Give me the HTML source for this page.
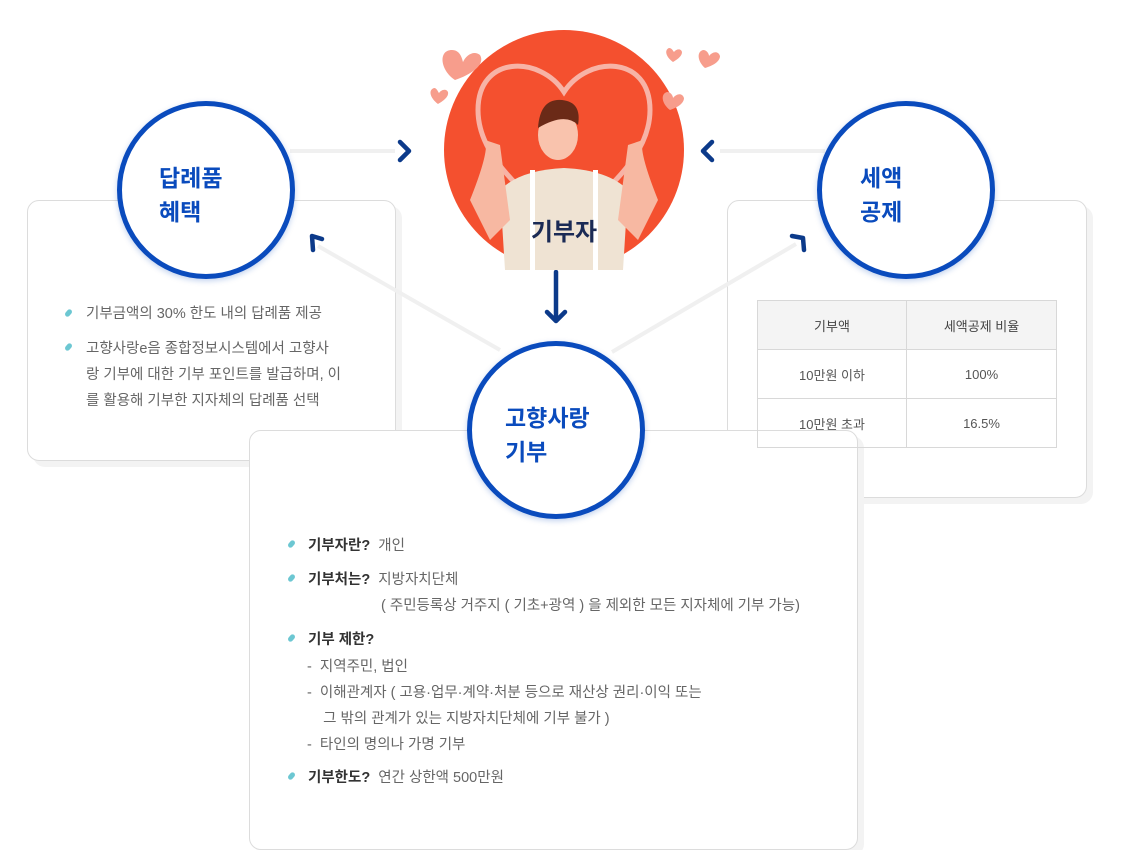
<!DOCTYPE html>
<html><head><meta charset="utf-8"><style>
*{margin:0;padding:0;box-sizing:border-box}
html,body{width:1132px;height:816px;}
body{background:#fff;position:relative;overflow:hidden;font-family:"Liberation Sans","Noto Sans CJK KR",sans-serif;}
.card{position:absolute;background:#fff;border:1px solid #dcdcdc;border-radius:12px;box-shadow:6px 6px 0 #f3f3f3;}
.circ{position:absolute;width:178px;height:178px;border-radius:50%;border:5px solid #0a4bbd;background:#fff;box-shadow:0 2px 6px rgba(10,75,189,.25);color:#0a4bbd;font-weight:bold;font-size:23px;line-height:34px;}
.circ div{position:absolute;}
.b{position:absolute;color:#666;font-size:14.5px;}
.dot{position:absolute;width:5px;height:8px;background:#6cc7d2;border-radius:3px;transform:rotate(40deg);}
td{border:1px solid #d8d8d8;text-align:center;color:#555;font-size:13px;height:49px}
</style></head><body>

<div class="card" style="left:27px;top:200px;width:369px;height:261px"></div>
<div class="card" style="left:727px;top:200px;width:360px;height:298px"></div>
<div class="card" style="left:249px;top:430px;width:609px;height:420px"></div>

<svg style="position:absolute;left:0;top:0" width="1132" height="816">
<g stroke="#f0f0f0" stroke-width="4" fill="none">
<line x1="290" y1="151" x2="395" y2="151"/>
<line x1="720" y1="151" x2="825" y2="151"/>
<line x1="500" y1="350" x2="318" y2="246"/>
<line x1="612" y1="352" x2="796" y2="244"/>
</g>
<g stroke="#0c3a8a" stroke-width="4.5" fill="none" stroke-linecap="round" stroke-linejoin="round">
<polyline points="400,142 409,151 400,160"/>
<polyline points="712,142 703,151 712,160"/>
<polyline points="322,239 312,236 313,250"/>
<polyline points="792,236 803,238 804,250"/>
<line x1="556" y1="272" x2="556" y2="320"/>
<polyline points="547,312 556,321 565,312"/>
</g>
<circle cx="564" cy="150" r="120" fill="#f4502f"/>
<path d="M564 92 C540 55,478 55,478 110 C478 160,530 195,564 230 C598 195,650 160,650 110 C650 55,588 55,564 92Z" fill="none" stroke="#f7b3a6" stroke-width="5"/>
<path d="M505 270 L500 190 Q520 170 564 168 Q608 170 628 190 L623 270Z" fill="#efe3d3"/>
<path d="M470 200 Q490 150 485 140 L500 145 L510 220 L490 240Z" fill="#f7b8a2"/>
<path d="M658 200 Q638 150 643 140 L628 145 L618 220 L638 240Z" fill="#f7b8a2"/>
<ellipse cx="558" cy="135" rx="20" ry="25" fill="#f9c3ad"/>
<path d="M538 128 Q540 98 562 100 Q582 102 578 125 Q565 112 538 128Z" fill="#6b2a17"/>
<rect x="530" y="170" width="5" height="100" fill="#fff"/>
<rect x="593" y="170" width="5" height="100" fill="#fff"/>
<g fill="#f79d8c">
<path d="M455 80 C440 70,438 50,452 50 C460 50,462 58,463 62 C466 55,474 50,480 55 C486 65,470 75,455 80Z"/>
<path d="M438 104 C430 98,428 90,434 88 C437 88,438 92,439 93 C441 90,446 88,448 92 C449 97,443 101,438 104Z"/>
<path d="M673 62 C666 57,664 50,669 48 C672 48,673 51,674 52 C676 49,681 48,682 52 C682 56,678 59,673 62Z"/>
<path d="M705 68 C698 62,696 52,703 50 C707 50,709 54,709 56 C712 52,718 50,720 56 C720 62,712 66,705 68Z"/>
<path d="M670 110 C662 104,660 94,667 92 C671 92,673 96,673 98 C676 94,682 92,684 98 C684 104,676 108,670 110Z"/>
</g>
<text x="564" y="240" text-anchor="middle" font-family="Liberation Sans,Noto Sans CJK KR,sans-serif" font-weight="bold" font-size="24" fill="#1a2a55">기부자</text>
</svg>

<div class="circ" style="left:117px;top:101px"><div style="left:37px;top:55px">답례품<br>혜택</div></div>
<div class="circ" style="left:817px;top:101px"><div style="left:38px;top:55px">세액<br>공제</div></div>
<div class="circ" style="left:467px;top:341px"><div style="left:33px;top:55px">고향사랑<br>기부</div></div>

<div class="dot" style="left:66px;top:309px"></div>
<div class="b" style="left:86px;top:302px">기부금액의 30% 한도 내의 답례품 제공</div>
<div class="dot" style="left:66px;top:343px"></div>
<div class="b" style="left:86px;top:336px;line-height:26px;width:290px">고향사랑e음 종합정보시스템에서 고향사<br>랑 기부에 대한 기부 포인트를 발급하며, 이<br>를 활용해 기부한 지자체의 답례품 선택</div>

<table style="position:absolute;left:757px;top:300px;width:300px;border-collapse:collapse">
<tr><td style="background:#f4f4f4;color:#444;width:149px">기부액</td><td style="background:#f4f4f4;color:#444">세액공제 비율</td></tr>
<tr><td>10만원 이하</td><td>100%</td></tr>
<tr><td>10만원 초과</td><td>16.5%</td></tr>
</table>

<div class="dot" style="left:289px;top:540px"></div>
<div class="b" style="left:308px;top:534px"><b style="color:#333">기부자란?</b>&nbsp; 개인</div>
<div class="dot" style="left:289px;top:574px"></div>
<div class="b" style="left:308px;top:568px"><b style="color:#333">기부처는?</b>&nbsp; 지방자치단체</div>
<div class="b" style="left:381px;top:594px">( 주민등록상 거주지 ( 기초+광역 ) 을 제외한 모든 지자체에 기부 가능)</div>
<div class="dot" style="left:289px;top:634px"></div>
<div class="b" style="left:308px;top:628px"><b style="color:#333">기부 제한?</b></div>
<div class="b" style="left:307px;top:654px;line-height:26px">-&nbsp; 지역주민, 법인<br>-&nbsp; 이해관계자 ( 고용·업무·계약·처분 등으로 재산상 권리·이익 또는<br>&nbsp;&nbsp;&nbsp; 그 밖의 관계가 있는 지방자치단체에 기부 불가 )<br>-&nbsp; 타인의 명의나 가명 기부</div>
<div class="dot" style="left:289px;top:772px"></div>
<div class="b" style="left:308px;top:766px"><b style="color:#333">기부한도?</b>&nbsp; 연간 상한액 500만원</div>
</body></html>
